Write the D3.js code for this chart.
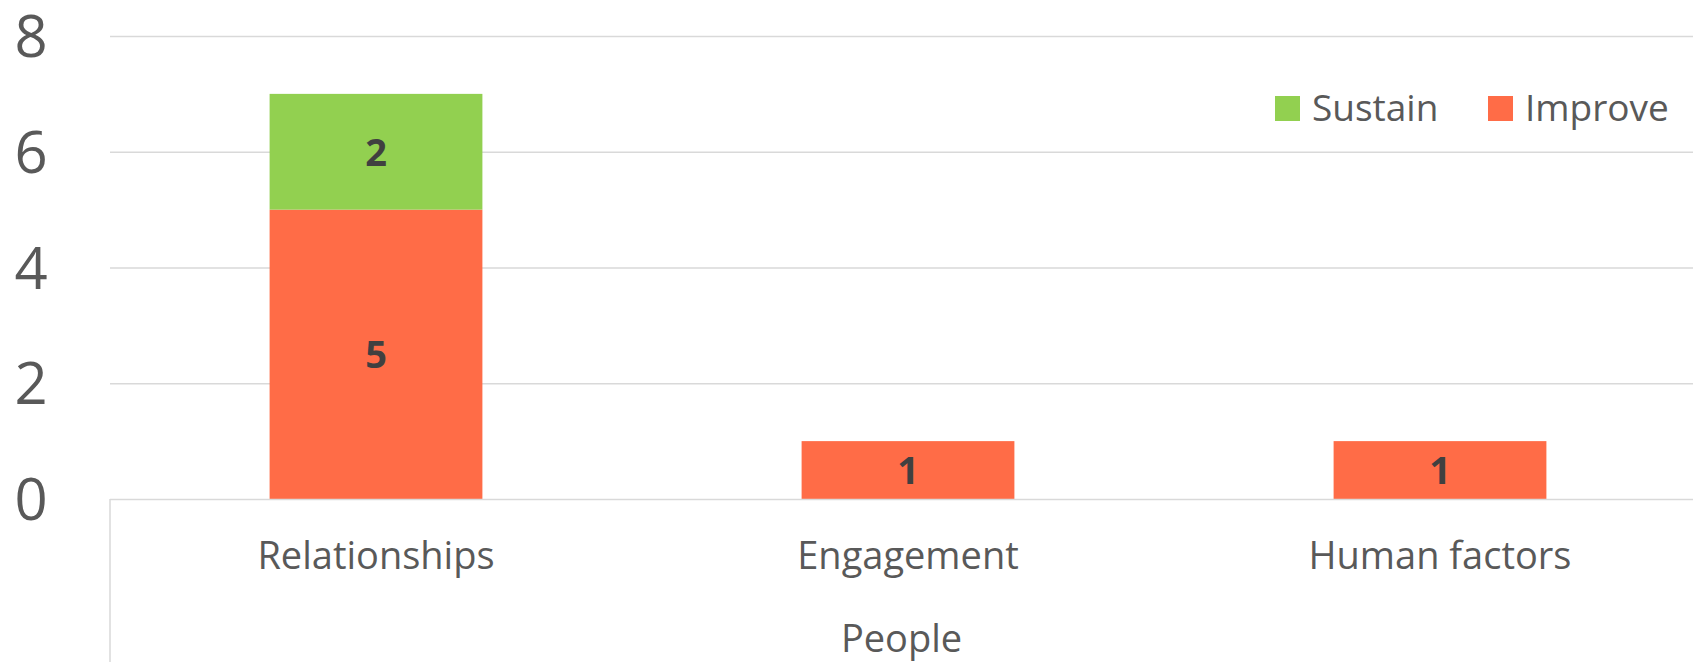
<!DOCTYPE html>
<html>
<head>
<meta charset="utf-8">
<script src="https://cdn.jsdelivr.net/npm/d3@7"></script>
<style>
  body { margin: 0; background: #fff; }
  svg { display: block; font-family: "Open Sans", sans-serif; }
</style>
</head>
<body>
<div id="chart"></div>
<script>
let categories = ["Relationships", "Engagement", "Human factors"];
let improve = [5, 1, 1];
let sustain = [2, 0, 0];
let seriesNames = ["Sustain", "Improve"];
let yTicks = [0, 2, 4, 6, 8];
let groupLabel = "People";

// set the dimensions of the graph
let width = 1693, height = 662;
let plotLeft = 110, plotTop = 36, zero = 499;

let svg = d3.select("#chart")
  .append("svg")
    .attr("width", width)
    .attr("height", height);

let x = d3.scaleBand()
  .domain(categories)
  .range([plotLeft, plotLeft + 3 * 532])
  .paddingInner(0.6)
  .paddingOuter(0.3);

let y = d3.scaleLinear()
  .domain([0, 8])
  .range([zero, plotTop]);

// gridlines
svg.append("g")
  .selectAll("line")
  .data(yTicks.filter(d => d > 0))
  .enter()
  .append("line")
    .attr("x1", plotLeft)
    .attr("x2", width)
    .attr("y1", d => y(d) + 0.5)
    .attr("y2", d => y(d) + 0.5)
    .style("stroke", "#d9d9d9")
    .style("stroke-width", 1.5);

// y labels
svg.append("g")
  .selectAll("text")
  .data(yTicks)
  .enter()
  .append("text")
    .attr("x", 31)
    .attr("y", d => y(d) + 21)
    .attr("text-anchor", "middle")
    .style("font-size", "58px")
    .style("fill", "#595959")
    .text(d => d);

// stacked data
let rows = categories.map((c, i) => ({cat: c, Improve: improve[i], Sustain: sustain[i]}));
let stack = d3.stack().keys(["Improve", "Sustain"])(rows);
let color = {Improve: "#ff6c47", Sustain: "#92d050"};

let layers = svg.append("g")
  .selectAll("g")
  .data(stack)
  .enter()
  .append("g")
    .style("fill", d => color[d.key]);

layers.selectAll("rect")
  .data(d => d.filter(s => s[1] - s[0] > 0))
  .enter()
  .append("rect")
    .attr("x", d => x(d.data.cat))
    .attr("width", x.bandwidth())
    .attr("y", d => y(d[1]))
    .attr("height", d => y(d[0]) - y(d[1]));

layers.selectAll("text")
  .data(d => d.filter(s => s[1] - s[0] > 0))
  .enter()
  .append("text")
    .attr("x", d => x(d.data.cat) + x.bandwidth() / 2)
    .attr("y", d => (y(d[0]) + y(d[1])) / 2 + 14)
    .attr("text-anchor", "middle")
    .style("font-size", "38px")
    .style("font-weight", "bold")
    .style("fill", "#404040")
    .text(d => d[1] - d[0]);

// axis line and left divider
svg.append("line")
  .attr("x1", plotLeft).attr("x2", width)
  .attr("y1", zero + 0.5).attr("y2", zero + 0.5)
  .style("stroke", "#d9d9d9").style("stroke-width", 1.5);
svg.append("line")
  .attr("x1", plotLeft).attr("x2", plotLeft)
  .attr("y1", zero).attr("y2", height)
  .style("stroke", "#d9d9d9").style("stroke-width", 1.5);

// category labels
svg.append("g")
  .selectAll("text")
  .data(categories)
  .enter()
  .append("text")
    .attr("x", d => x(d) + x.bandwidth() / 2)
    .attr("y", 569)
    .attr("text-anchor", "middle")
    .style("font-size", "38px")
    .style("fill", "#595959")
    .text(d => d);

svg.append("text")
  .attr("x", (plotLeft + width) / 2)
  .attr("y", 652)
  .attr("text-anchor", "middle")
  .style("font-size", "38px")
  .style("fill", "#595959")
  .text(groupLabel);

// legend
let legendX = [1275, 1488];
let legend = svg.append("g")
  .selectAll("g")
  .data(seriesNames)
  .enter()
  .append("g")
    .attr("transform", (d, i) => "translate(" + legendX[i] + ",96)");
legend.append("rect")
  .attr("width", 25).attr("height", 25)
  .style("fill", d => color[d]);
legend.append("text")
  .attr("x", 37).attr("y", 25)
  .style("font-size", "37px")
  .style("fill", "#595959")
  .text(d => d);
</script>
</body>
</html>
